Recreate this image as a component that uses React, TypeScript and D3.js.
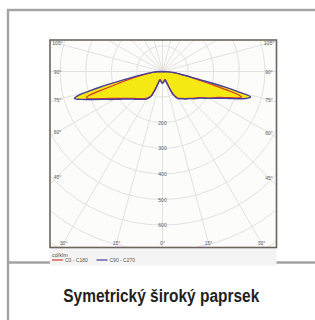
import * as d3 from 'd3'
import React, { useRef, useEffect } from 'react'

// Angles from nadir (degrees) at which intensities were read
const gammas = [0, 5, 10, 15, 18, 20, 22, 25, 30, 35, 40, 45, 50, 55, 60, 65, 68, 70, 71, 72, 73, 74, 75, 76, 78, 80, 85, 90]
// C90 - C270 plane (cd/klm), left half and right half
const c270 = [46, 43, 38, 35, 35, 44, 75, 108, 124, 133, 142, 153, 167, 188, 218, 258, 292, 320, 335, 350, 360, 345, 300, 250, 150, 100, 40, 0]
const c90 = [46, 43, 38, 35, 35, 42, 62, 100, 122, 130, 140, 150, 165, 181, 210, 247, 282, 312, 327, 342, 353, 358, 305, 255, 135, 90, 40, 0]
// C0 - C180 plane (cd/klm)
const c180 = [44, 41, 36, 33, 34, 42, 70, 104, 120, 129, 138, 149, 163, 183, 210, 250, 285, 310, 315, 300, 255, 205, 175, 150, 115, 80, 32, 0]
const c0 = [44, 41, 36, 33, 33, 40, 58, 98, 120, 128, 138, 148, 162, 178, 207, 240, 272, 300, 315, 325, 310, 260, 210, 170, 120, 85, 35, 0]

const radialTicks = [100, 200, 300, 400, 500, 600, 700, 800]
const radialLabels = [200, 300, 400, 500, 600]
const sideAngles = [105, 90, 75, 60, 45, 30]
const bottomAngles = [-15, 0, 15, 30]
const legendItems = [
  { label: 'C0 - C180', color: '#d8382c' },
  { label: 'C90 - C270', color: '#44419c' },
]
const title = 'Symetrický široký paprsek'

const App = () => {
  const ref = useRef<SVGSVGElement | null>(null)

  useEffect(() => {
    const svg = d3.select(ref.current)
    svg.selectAll('*').remove()

    const box = { left: 50, top: 40, right: 276.5, bottom: 247.5 }
    const cx = 162.5
    const cy = 71.5
    const r = d3.scaleLinear().domain([0, 700]).range([0, 179.2])
    const toRad = (g: number) => g * Math.PI / 180

    // outer frame
    svg.append('rect')
      .attr('x', 8).attr('y', 10).attr('width', 330).attr('height', 340)
      .attr('fill', '#fff').attr('stroke', '#a3a3a3').attr('stroke-width', 2.4)
    svg.append('line')
      .attr('x1', 8).attr('x2', 315).attr('y1', 262.5).attr('y2', 262.5)
      .attr('stroke', '#a3a3a3').attr('stroke-width', 2.4)

    // legend background
    svg.append('rect')
      .attr('x', box.left).attr('y', box.bottom).attr('width', box.right - box.left).attr('height', 18)
      .attr('fill', '#f4f4f4')

    // plot background
    svg.append('rect')
      .attr('x', box.left).attr('y', box.top)
      .attr('width', box.right - box.left).attr('height', box.bottom - box.top)
      .attr('fill', '#fcfcfb')

    svg.append('clipPath').attr('id', 'plotclip')
      .append('rect')
      .attr('x', box.left).attr('y', box.top)
      .attr('width', box.right - box.left).attr('height', box.bottom - box.top)

    // clip in page space, then move to the pole
    const grid = svg.append('g').attr('clip-path', 'url(#plotclip)')
      .append('g')
      .attr('transform', `translate(${cx}, ${cy})`)

    // concentric circles
    grid.selectAll('.ring')
      .data(radialTicks)
      .enter().append('circle')
      .attr('r', d => r(d))
      .attr('fill', 'none')
      .attr('stroke', '#e3e1de')
      .attr('stroke-width', 1)

    // radial spokes every 15 degrees
    grid.selectAll('.spoke')
      .data(d3.range(0, 360, 15))
      .enter().append('line')
      .attr('x2', d => r(900) * Math.sin(toRad(d)))
      .attr('y2', d => r(900) * Math.cos(toRad(d)))
      .attr('stroke', '#e3e1de')
      .attr('stroke-width', 1)

    // curves
    const radial = d3.lineRadial<[number, number]>()
      .angle(d => d[0])
      .radius(d => r(d[1]))
      .curve(d3.curveCatmullRom)

    const buildPoints = (leftVals: number[], rightVals: number[]) => {
      const left = gammas.map((g, i) => [Math.PI + toRad(g), leftVals[i]] as [number, number]).reverse()
      const right = gammas.slice(1).map((g, i) => [Math.PI - toRad(g), rightVals[i + 1]] as [number, number])
      return left.concat(right)
    }

    const bluePts = buildPoints(c270, c90)
    const redPts = buildPoints(c180, c0)

    const curves = svg.append('g').attr('transform', `translate(${cx}, ${cy})`)
    curves.append('path').attr('d', radial(bluePts)).attr('fill', '#f6e913')
    curves.append('path').attr('d', radial(redPts)).attr('fill', '#f6e913')
    curves.append('path').attr('d', radial(redPts))
      .attr('fill', 'none').attr('stroke', legendItems[0].color).attr('stroke-width', 1.2)
    curves.append('path').attr('d', radial(bluePts))
      .attr('fill', 'none').attr('stroke', legendItems[1].color).attr('stroke-width', 1.4)

    // intensity labels along the nadir axis
    svg.selectAll('.rlabel')
      .data(radialLabels)
      .enter().append('text')
      .attr('x', cx)
      .attr('y', d => cy + r(d))
      .attr('text-anchor', 'middle')
      .attr('dominant-baseline', 'central')
      .style('font-family', 'Liberation Sans, sans-serif')
      .style('font-size', '5px')
      .attr('fill', '#5a5a5a')
      .text(d => d)

    // angle labels where the spokes meet the inset frame
    const inset = { left: box.left + 7.5, right: box.right - 7.5, bottom: box.bottom - 4.5 }
    const sideLabel = (g: number, side: number) => {
      const s = Math.sin(toRad(g))
      const c = Math.cos(toRad(g))
      const dx = side < 0 ? cx - inset.left : inset.right - cx
      let t = dx / s
      if (c > 0 && cy + t * c > inset.bottom) t = (inset.bottom - cy) / c
      return [cx + side * t * s, cy + t * c]
    }
    const angleLabels: { g: number, side: number }[] = []
    sideAngles.forEach(g => { angleLabels.push({ g, side: -1 }); angleLabels.push({ g, side: 1 }) })
    bottomAngles.forEach(g => { if (g !== 30) angleLabels.push({ g: Math.abs(g), side: g < 0 ? -1 : 1 }) })

    svg.selectAll('.alabel')
      .data(angleLabels)
      .enter().append('text')
      .attr('x', d => sideLabel(d.g, d.side)[0])
      .attr('y', d => sideLabel(d.g, d.side)[1])
      .attr('text-anchor', 'middle')
      .attr('dominant-baseline', 'central')
      .style('font-family', 'Liberation Sans, sans-serif')
      .style('font-size', '5px')
      .attr('fill', '#5a5a5a')
      .text(d => `${d.g}°`)

    // plot border
    svg.append('rect')
      .attr('x', box.left).attr('y', box.top)
      .attr('width', box.right - box.left).attr('height', box.bottom - box.top)
      .attr('fill', 'none').attr('stroke', '#6d645e').attr('stroke-width', 1.6)

    // legend
    svg.append('text')
      .attr('x', box.left + 2).attr('y', box.bottom + 9)
      .style('font-family', 'Liberation Sans, sans-serif')
      .style('font-size', '5.5px')
      .attr('fill', '#555')
      .text('cd/klm')

    const legendX = [52, 96.5]
    legendItems.forEach((item, i) => {
      svg.append('line')
        .attr('x1', legendX[i]).attr('x2', legendX[i] + 11)
        .attr('y1', box.bottom + 12.5).attr('y2', box.bottom + 12.5)
        .attr('stroke', item.color).attr('stroke-width', 1.2)
      svg.append('text')
        .attr('x', legendX[i] + 13).attr('y', box.bottom + 12.5)
        .attr('dominant-baseline', 'central')
        .style('font-family', 'Liberation Sans, sans-serif')
        .style('font-size', '5px')
        .attr('fill', '#555')
        .text(item.label)
    })

    // caption
    svg.append('text')
      .attr('x', 161.3).attr('y', 302)
      .attr('text-anchor', 'middle')
      .attr('textLength', 196)
      .attr('lengthAdjust', 'spacingAndGlyphs')
      .style('font-family', 'Liberation Sans Narrow, Liberation Sans, sans-serif')
      .style('font-weight', 'bold')
      .style('font-size', '17.5px')
      .attr('fill', '#231f20')
      .text(title)
  }, [])

  return (
    <svg ref={ ref } width={ 315 } height={ 320 } style={ { position: 'absolute', left: 0, top: 0 } } />
  )
}

export default App
